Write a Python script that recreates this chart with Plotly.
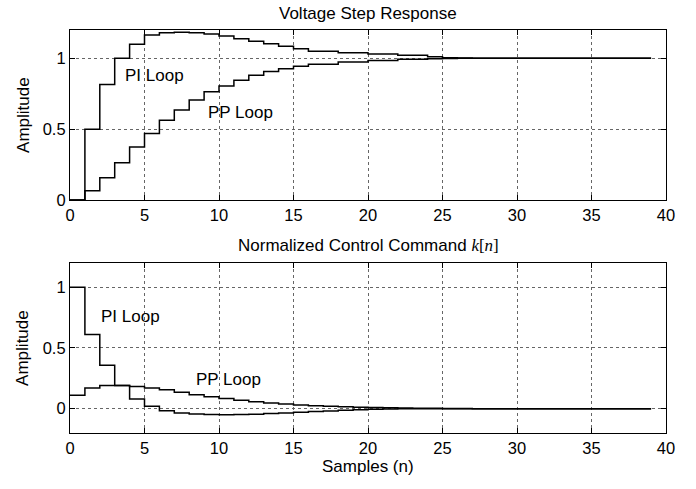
import plotly.graph_objects as go
from plotly.subplots import make_subplots

# sample index
n = list(range(40))

# voltage step response
pi_step = [0.0, 0.5, 0.815, 1.0, 1.10, 1.165, 1.18, 1.185, 1.18, 1.172,
           1.157, 1.138, 1.12, 1.103, 1.085, 1.068, 1.05, 1.05, 1.04, 1.04,
           1.031, 1.031, 1.022, 1.022, 1.012, 1.005, 1.002, 1.0, 1.0, 1.0,
           1.0, 1.0, 1.0, 1.0, 1.0, 1.0, 1.0, 1.0, 1.0, 1.0]
pp_step = [0.0, 0.066, 0.157, 0.263, 0.375, 0.47, 0.563, 0.636, 0.706, 0.765,
           0.805, 0.845, 0.88, 0.908, 0.927, 0.944, 0.958, 0.958, 0.974, 0.974,
           0.985, 0.985, 0.993, 0.993, 0.998, 0.999, 1.0, 1.0, 1.0, 1.0,
           1.0, 1.0, 1.0, 1.0, 1.0, 1.0, 1.0, 1.0, 1.0, 1.0]

# normalized control command k[n]
pi_cmd = [1.0, 0.61, 0.358, 0.19, 0.08, 0.02, -0.017, -0.035, -0.043, -0.048,
          -0.05, -0.048, -0.045, -0.04, -0.035, -0.03, -0.024, -0.018, -0.013, -0.008,
          -0.004, -0.002, -0.001, -0.001, 0.0, 0.0, 0.0, 0.0, 0.0, 0.0,
          0.0, 0.0, 0.0, 0.0, 0.0, 0.0, 0.0, 0.0, 0.0, 0.0]
pp_cmd = [0.11, 0.171, 0.19, 0.19, 0.182, 0.17, 0.155, 0.135, 0.115, 0.098,
          0.083, 0.07, 0.058, 0.047, 0.039, 0.031, 0.025, 0.02, 0.016, 0.012,
          0.009, 0.007, 0.005, 0.004, 0.003, 0.002, 0.001, 0.0, 0.0, 0.0,
          0.0, 0.0, 0.0, 0.0, 0.0, 0.0, 0.0, 0.0, 0.0, 0.0]

x_ticks = [0, 5, 10, 15, 20, 25, 30, 35, 40]
y_ticks = [0, 0.5, 1]
y_labels = ["0", "0.5", "1"]

FONT = "Liberation Sans, Arial, Helvetica, sans-serif"

fig = make_subplots(rows=2, cols=1, vertical_spacing=0.156)

line = dict(color="black", width=1.5, shape="hv")
fig.add_trace(go.Scatter(x=n, y=pi_step, mode="lines", line=line), row=1, col=1)
fig.add_trace(go.Scatter(x=n, y=pp_step, mode="lines", line=line), row=1, col=1)
fig.add_trace(go.Scatter(x=n, y=pi_cmd, mode="lines", line=line), row=2, col=1)
fig.add_trace(go.Scatter(x=n, y=pp_cmd, mode="lines", line=line), row=2, col=1)

axis_style = dict(
    showline=True, linecolor="black", linewidth=1.2, mirror="ticks",
    ticks="inside", ticklen=5, tickcolor="black", tickwidth=1,
    showgrid=True, gridcolor="#666666", gridwidth=0.7, griddash="3px,3px",
    zeroline=False, tickfont=dict(family=FONT, size=16.5, color="black"),
)

for r in (1, 2):
    fig.update_xaxes(range=[0, 40], tickvals=x_ticks, **axis_style, row=r, col=1)
fig.update_yaxes(range=[0, 1.2], tickvals=y_ticks, ticktext=y_labels,
                 **axis_style, row=1, col=1)
fig.update_yaxes(range=[-0.2, 1.2], tickvals=y_ticks, ticktext=y_labels,
                 **axis_style, row=2, col=1)

fig.update_layout(
    xaxis=dict(domain=[0, 1]), xaxis2=dict(domain=[0, 1]),
    yaxis=dict(domain=[0.578, 1.0]), yaxis2=dict(domain=[0.0, 0.422]),
)

txt = dict(family=FONT, size=17, color="black")
notes = [
    dict(x=5.64, y=0.88, xref="x", yref="y", text="PI Loop"),
    dict(x=11.44, y=0.615, xref="x", yref="y", text="PP Loop"),
    dict(x=4.06, y=0.755, xref="x2", yref="y2", text="PI Loop"),
    dict(x=10.64, y=0.24, xref="x2", yref="y2", text="PP Loop"),
    dict(x=0.5, y=1.0, xref="paper", yref="paper", yanchor="bottom", yshift=5,
         text="Voltage Step Response"),
    dict(x=0.5, y=0.4665, xref="paper", yref="paper",
         text="Normalized Control Command <span style='font-family:Liberation Serif'>"
              "<i>k</i>[<i>n</i>]</span>"),
    dict(x=0.5, y=-0.082, xref="paper", yref="paper", text="Samples (n)"),
    dict(x=-0.079, y=0.789, xref="paper", yref="paper", text="Amplitude", textangle=-90),
    dict(x=-0.079, y=0.211, xref="paper", yref="paper", text="Amplitude", textangle=-90),
]
for a in notes:
    a.setdefault("yanchor", "middle")
    fig.add_annotation(showarrow=False, font=txt, xanchor="center", **a)

fig.update_layout(
    width=696, height=489,
    margin=dict(l=70, r=30, t=30, b=56),
    plot_bgcolor="white", paper_bgcolor="white",
    showlegend=False,
    font=dict(family=FONT, color="black"),
)

# drop the default page margin so the figure sits at the window's corner
fig.write_html("out.html", config={"displayModeBar": False},
               post_script="document.body.style.margin = '0';")
